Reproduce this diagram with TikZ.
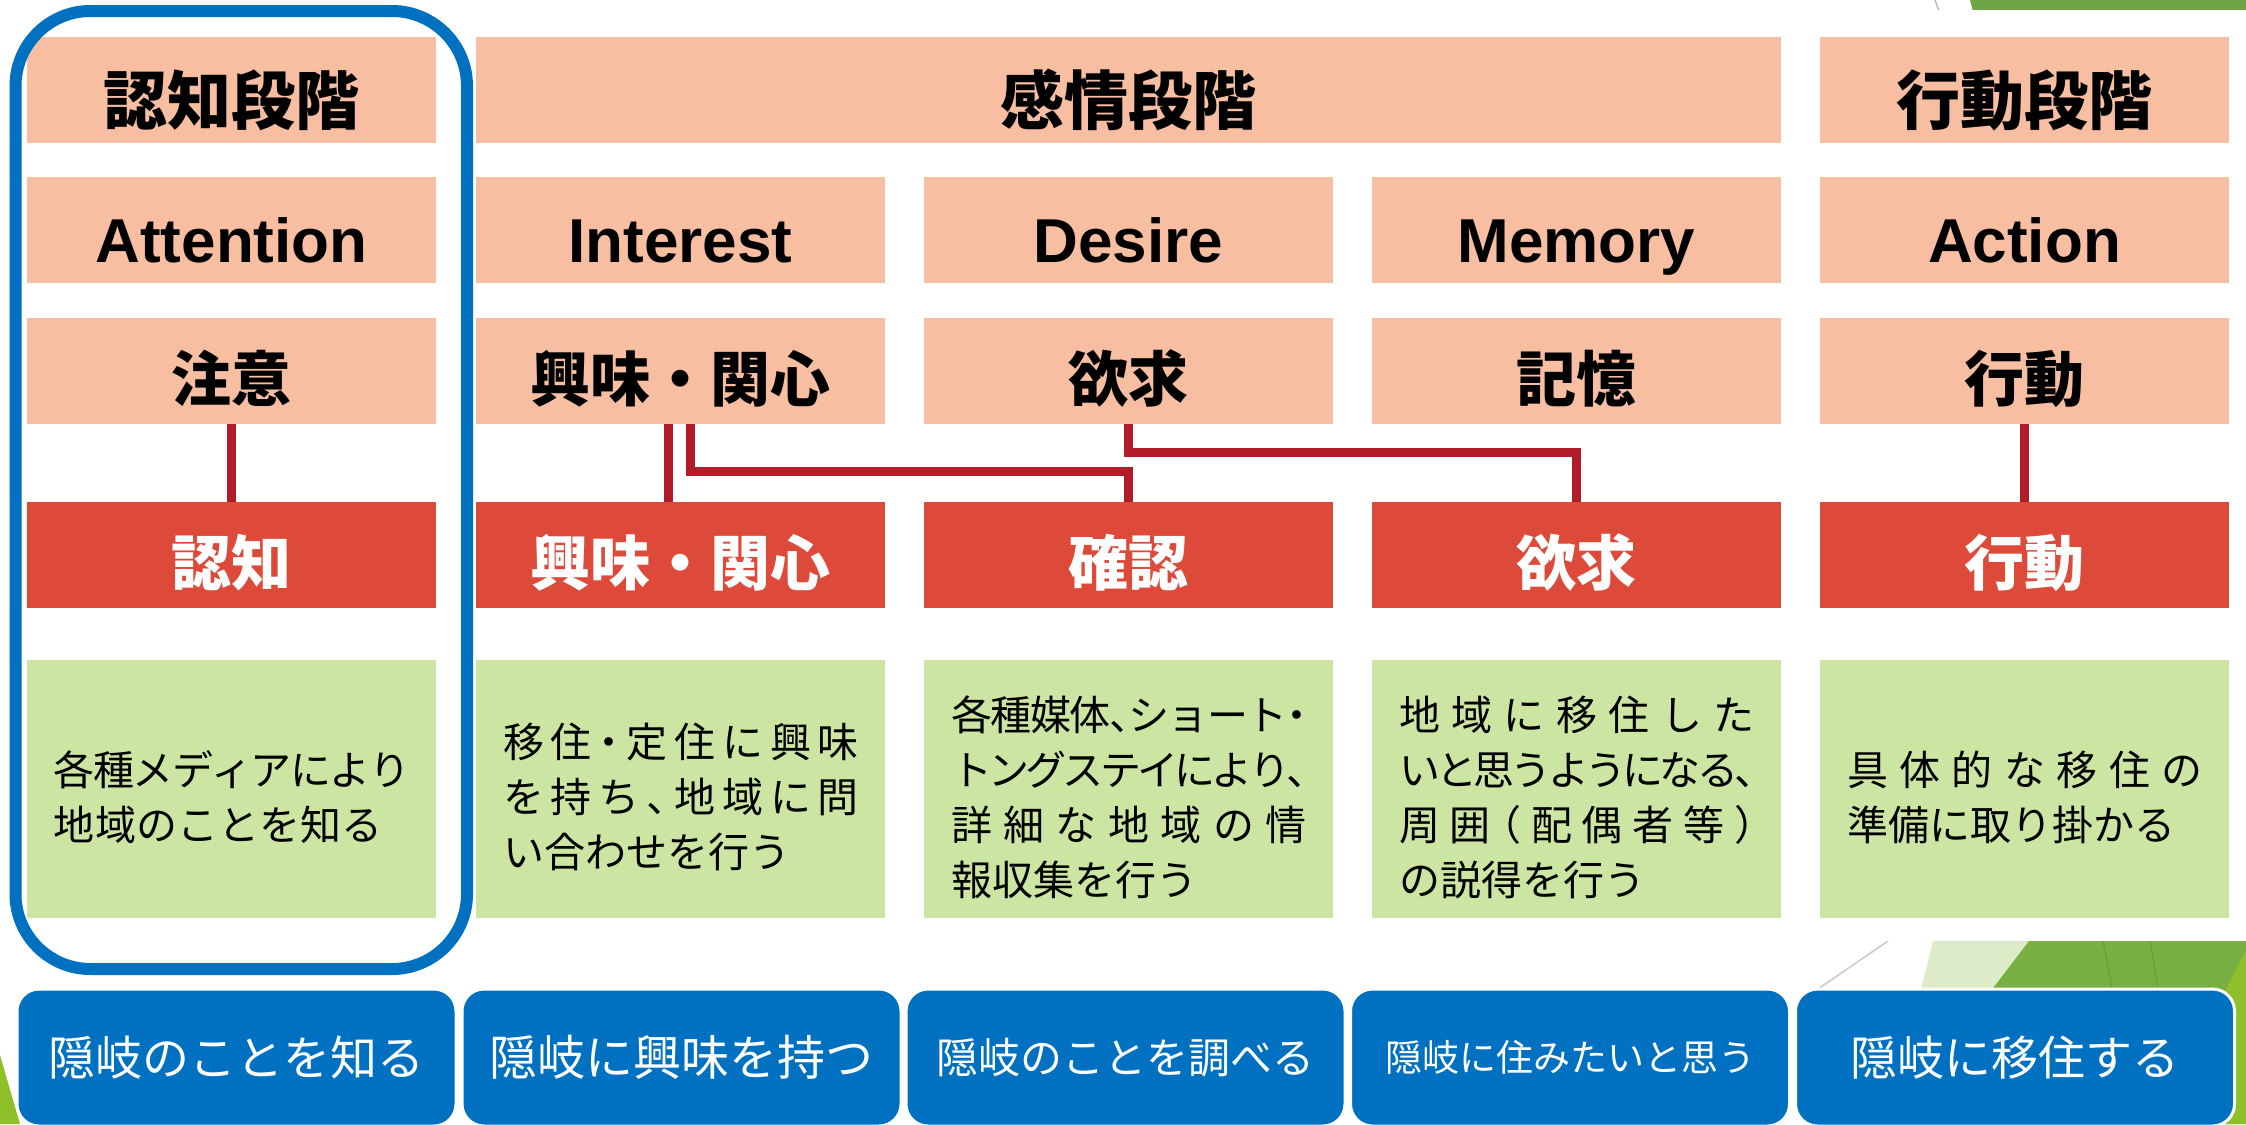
\documentclass[tikz,border=0pt]{standalone}
\usepackage{fontspec}
\setmainfont{Noto Sans CJK JP}
\newfontfamily\jph[RawFeature=+halt]{Noto Sans CJK JP}
\newfontfamily\en{Liberation Sans}
\definecolor{peachc}{RGB}{247,190,161}
\definecolor{redc}{RGB}{221,74,58}
\definecolor{greenc}{RGB}{205,229,163}
\definecolor{connc}{RGB}{178,28,40}
\definecolor{blueb}{RGB}{0,112,192}
\definecolor{facetdark}{RGB}{112,165,70}
\definecolor{facetgreen}{RGB}{120,176,67}
\definecolor{facetseam}{RGB}{104,160,58}
\definecolor{facetpale}{RGB}{221,235,200}
\definecolor{facetlime}{RGB}{143,192,42}
\makeatletter
\newcommand\jline[2]{\makebox[#1][s]{\let\jsep\relax\@tfor\jch:=#2\do{\jsep\jch\def\jsep{\hskip 0pt plus 1fil minus .25em}}}}
\makeatother
\begin{document}
\begin{tikzpicture}[x=0.5pt,y=-0.5pt,
  box/.style={inner sep=0pt, outer sep=0pt, minimum width=204.5pt, minimum height=53pt},
  peachbox/.style={box, fill=peachc, text=black, text height=30pt, text depth=0pt, font=\bfseries\fontsize{30}{36}\selectfont},
  headbox/.style={peachbox, text height=34pt, font=\bfseries\fontsize{32}{38}\selectfont},
  engbox/.style={peachbox, text height=32pt, font=\en\bfseries\fontsize{31}{36}\selectfont},
  redbox/.style={box, fill=redc, text=white, text height=30pt, text depth=0pt, font=\bfseries\fontsize{30}{36}\selectfont},
  greenbox/.style={box, fill=greenc, minimum height=129pt},
  gtext/.style={inner sep=0pt, outer sep=0pt, align=left, text=black, font=\jph\fontsize{20.5}{27.5}\selectfont},
  bluebox/.style={fill=blueb, draw=white, line width=1.5pt, rounded corners=11pt, minimum width=219.5pt, minimum height=68.5pt, inner sep=0pt, text=white},
  conn/.style={draw=connc, line width=4.5pt},
]
\useasboundingbox (0,0) rectangle (2246,1124);
\clip (0,0) rectangle (2246,1124);
\fill[white] (0,0) rectangle (2246,1124);
% slide decorations
\fill[facetdark] (1970,0) -- (2246,0) -- (2246,30) -- (1978,30) -- cycle;
\draw[black!25, line width=0.8pt] (1935,0) -- (1940,14);
\fill[facetpale] (1933,941) -- (2029,941) -- (1889,1124) -- (1887,1124) -- cycle;
\fill[facetgreen] (2029,941) -- (2246,941) -- (2246,1124) -- (1889,1124) -- cycle;
\draw[facetseam, line width=0.6pt] (2103,941) -- (2112,989);
\draw[facetseam, line width=0.6pt] (2150,941) -- (2158,989);
\fill[facetlime] (2246,950) -- (2157,1124) -- (2246,1124) -- cycle;
\draw[black!20, line width=0.8pt] (1888,941) -- (1815,991);
\fill[facetlime] (0,1055) -- (20,1124) -- (0,1124) -- cycle;
% diagram area
\fill[white] (0,10) rectangle (2246,941);
% row 1
\node[headbox] (s1) at (231.5,90) {認知段階};
\node[headbox, minimum width=652.5pt] (s2) at (1128.5,90) {感情段階};
\node[headbox] (s3) at (2024.5,90) {行動段階};
% row 2
\node[engbox] (e1) at (231.5,230) {Attention};
\node[engbox] (e2) at (680.5,230) {Interest};
\node[engbox] (e3) at (1128.5,230) {Desire};
\node[engbox] (e4) at (1576.5,230) {Memory};
\node[engbox] (e5) at (2024.5,230) {Action};
% row 3
\node[peachbox] (p1) at (231.5,371) {注意};
\node[peachbox] (p2) at (680.5,371) {興味・関心};
\node[peachbox] (p3) at (1128.5,371) {欲求};
\node[peachbox] (p4) at (1576.5,371) {記憶};
\node[peachbox] (p5) at (2024.5,371) {行動};
% red row
\node[redbox] (r1) at (231.5,555) {認知};
\node[redbox] (r2) at (680.5,555) {興味・関心};
\node[redbox] (r3) at (1128.5,555) {確認};
\node[redbox] (r4) at (1576.5,555) {欲求};
\node[redbox] (r5) at (2024.5,555) {行動};
% connectors
\coordinate (hB) at (0,471);
\coordinate (hC) at (0,452);
\draw[conn] (p1.south) -- (r1.north);
\draw[conn] ([xshift=-6pt]p2.south) -- ([xshift=-6pt]r2.north);
\draw[conn] ([xshift=5pt]p2.south) |- (hB -| r3.north) -- (r3.north);
\draw[conn] (p3.south) |- (hC -| r4.north) -- (r4.north);
\draw[conn] (p5.south) -- (r5.north);
% green row
\node[greenbox] (g1) at (231.5,789) {};
\node[greenbox] (g2) at (680.5,789) {};
\node[greenbox] (g3) at (1128.5,789) {};
\node[greenbox] (g4) at (1576.5,789) {};
\node[greenbox] (g5) at (2024.5,789) {};
\node[gtext, anchor=west] (t1) at ([xshift=13.5pt,yshift=-4pt]g1.west) {\jline{178pt}{各種メディアにより}\\地域のことを知る};
\node[gtext, anchor=west] (t2) at ([xshift=13.5pt,yshift=-4pt]g2.west) {\jline{178pt}{移住・定住に興味}\\\jline{178pt}{を持ち、地域に問}\\い合わせを行う};
\node[gtext, anchor=west] (t3) at ([xshift=13.5pt,yshift=-4pt]g3.west) {\jline{178pt}{各種媒体、ショート・}\\\jline{178pt}{トングステイにより、}\\\jline{178pt}{詳細な地域の情}\\報収集を行う};
\node[gtext, anchor=west] (t4) at ([xshift=13.5pt,yshift=-4pt]g4.west) {\jline{178pt}{地域に移住した}\\\jline{178pt}{いと思うようになる、}\\\jline{178pt}{周囲（配偶者等）}\\の説得を行う};
\node[gtext, anchor=west] (t5) at ([xshift=13.5pt,yshift=-4pt]g5.west) {\jline{178pt}{具体的な移住の}\\準備に取り掛かる};
% focus outline
\draw[draw=blueb, line width=6pt, rounded corners=37.5pt] (15.5,11) rectangle (467,969);
% bottom blue boxes
\node[bluebox, font=\fontsize{23.5}{28}\selectfont] (b1) at (236.5,1057.5) {隠岐のことを知る};
\node[bluebox, font=\fontsize{24}{28}\selectfont] (b2) at (681.5,1057.5) {隠岐に興味を持つ};
\node[bluebox, font=\fontsize{21}{26}\selectfont] (b3) at (1125.5,1057.5) {隠岐のことを調べる};
\node[bluebox, font=\fontsize{18.5}{24}\selectfont] (b4) at (1570,1057.5) {隠岐に住みたいと思う};
\node[bluebox, font=\fontsize{23.5}{28}\selectfont] (b5) at (2015,1057.5) {隠岐に移住する};
\end{tikzpicture}
\end{document}
